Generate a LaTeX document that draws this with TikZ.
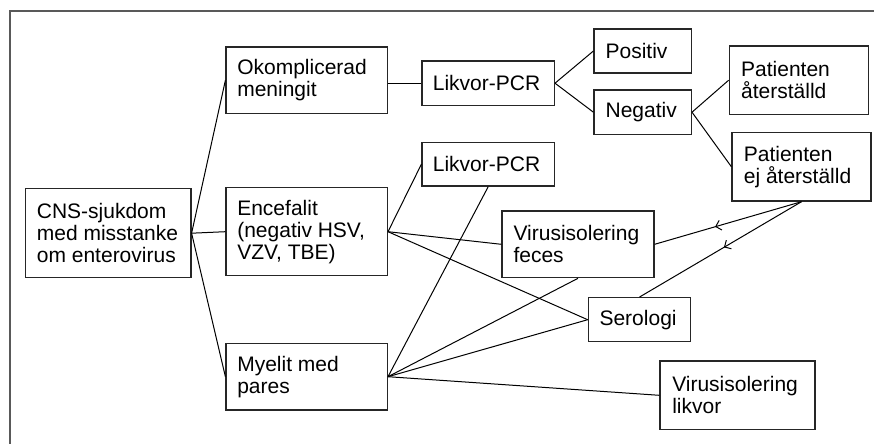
\documentclass[tikz,border=0pt]{standalone}
\usepackage{fontspec}
\setmainfont{Liberation Sans}
\usetikzlibrary{arrows.meta,decorations.markings}
\begin{document}
\begin{tikzpicture}[x=1pt,y=-1pt,
  box/.style={draw=black!85, line width=1.3pt, rectangle, inner sep=0pt},
  lbl/.style={anchor=west, inner sep=0pt, align=left, font=\fontsize{21}{22}\selectfont},
  conn/.style={draw=black, line width=1pt},
  midarrow/.style={conn, postaction={decorate}, decoration={markings,
     mark=at position 90pt with {\arrow{Straight Barb[length=5pt,width=10pt,line width=1pt]}}}},
  frame/.style={draw=black!65, line width=2pt}]
\useasboundingbox (0,0) rectangle (874,444);
\coordinate (ftl) at (10,11);
\coordinate (ftr) at (874,11);
\coordinate (fbl) at (10,444);
\draw[frame] (ftr) -- (ftl) -- (fbl);

\node[box, minimum width=165.3pt, minimum height=89pt] (cns) at (108.3,233.2) {};
\node[box, minimum width=161.3pt, minimum height=66.7pt] (okomp) at (306.7,80.3) {};
\node[box, minimum width=161.3pt, minimum height=88pt] (ence) at (306.7,231.7) {};
\node[box, minimum width=161.3pt, minimum height=66.7pt] (myel) at (306.7,376.7) {};
\node[box, minimum width=132.3pt, minimum height=44.3pt] (lik1) at (488.2,83.2) {};
\node[box, minimum width=132.3pt, minimum height=43.7pt] (lik2) at (488.2,164.2) {};
\node[box, minimum width=97.3pt, minimum height=44pt] (pos) at (642.7,51) {};
\node[box, minimum width=97.3pt, minimum height=44.3pt] (neg) at (642.7,112.2) {};
\node[box, minimum width=139pt, minimum height=68.3pt] (pata) at (798.8,80.2) {};
\node[box, minimum width=139pt, minimum height=68.7pt] (patej) at (801.5,166.7) {};
\node[box, minimum width=152pt, minimum height=66.7pt] (feces) at (578,244.3) {};
\node[box, minimum width=102.4pt, minimum height=44pt] (sero) at (639.5,319.7) {};
\node[box, minimum width=155pt, minimum height=68.7pt] (vlik) at (737.5,395.3) {};

\node[lbl] (cnst) at ([xshift=11.7pt]cns.west) {CNS-sjukdom\\med misstanke\\om enterovirus};
\node[lbl] (okompt) at ([xshift=11.7pt]okomp.west) {Okomplicerad\\meningit};
\node[lbl] (encet) at ([xshift=11.7pt]ence.west) {Encefalit\\(negativ HSV,\\VZV, TBE)};
\node[lbl] (myelt) at ([xshift=11.7pt]myel.west) {Myelit med\\pares};
\node[lbl] (lik1t) at ([xshift=11.3pt]lik1.west) {Likvor-PCR};
\node[lbl] (lik2t) at ([xshift=11.3pt]lik2.west) {Likvor-PCR};
\node[lbl] (post) at ([xshift=12pt]pos.west) {Positiv};
\node[lbl] (negt) at ([xshift=12pt]neg.west) {Negativ};
\node[lbl] (patat) at ([xshift=12.3pt]pata.west) {Patienten\\återställd};
\node[lbl] (patejt) at ([xshift=12.3pt]patej.west) {Patienten\\ej återställd};
\node[lbl] (fecest) at ([xshift=12pt]feces.west) {Virusisolering\\feces};
\node[lbl] (serot) at ([xshift=11.7pt]sero.west) {Serologi};
\node[lbl] (vlikt) at ([xshift=12.7pt]vlik.west) {Virusisolering\\likvor};

\draw[conn] (cns.east) -- (okomp.west);
\draw[conn] (cns.east) -- (ence.west);
\draw[conn] (cns.east) -- (myel.west);
\draw[conn] (okomp.east |- lik1.west) -- (lik1.west);
\draw[conn] (lik1.east) -- (pos.west);
\draw[conn] (lik1.east) -- (neg.west);
\draw[conn] (neg.east) -- (pata.west);
\draw[conn] (neg.east) -- (patej.west);
\draw[conn] (ence.east) -- (lik2.west);
\draw[conn] (ence.east) -- (feces.west);
\draw[conn] (ence.east) -- (sero.west);
\draw[conn] (myel.east) -- (lik2.south);
\draw[conn] (myel.east) -- (feces.south);
\draw[conn] (myel.east) -- (sero.west);
\draw[conn] (myel.east) -- (vlik.west);
\draw[midarrow] (patej.south) -- (feces.east);
\draw[midarrow] (patej.south) -- (sero.north);
\end{tikzpicture}
\end{document}
